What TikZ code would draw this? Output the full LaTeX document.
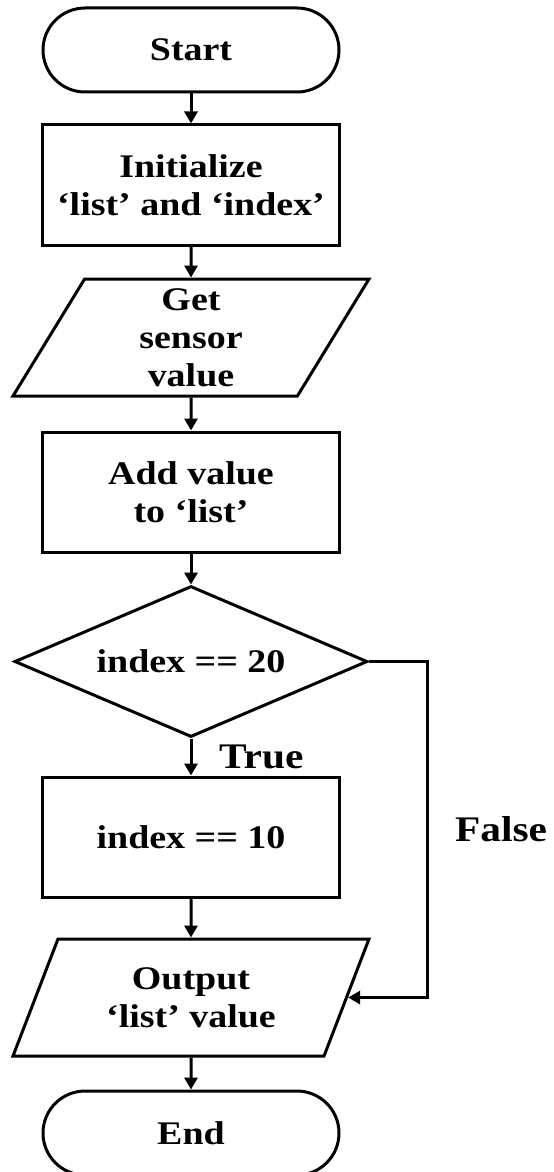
\documentclass[tikz,border=0pt]{standalone}
\usepackage{fontspec}
\setmainfont{Liberation Serif}[FakeStretch=1.15]
\usetikzlibrary{arrows.meta}
\usetikzlibrary{shapes.geometric,positioning}

\begin{document}
\begin{tikzpicture}[->,>={Triangle[length=6pt,width=6.5pt]},line width=1.5pt,
                    node distance=15.5pt,
                    every node/.style={font=\fontsize{16.5}{19}\selectfont\bfseries,align=center},
                    term node/.style={rectangle,rounded corners=21pt,draw,minimum width=148pt,minimum height=42pt},
                    box node/.style={rectangle,draw,minimum width=148.5pt,minimum height=60pt},
                    io node/.style={trapezium,trapezium left angle=55,trapezium right angle=125,
                                    trapezium stretches body,draw,minimum width=178pt,minimum height=58.5pt,inner sep=1pt},
                    dec node/.style={diamond,draw,aspect=2.3,inner sep=0pt,minimum width=176.5pt,minimum height=75.5pt},
                    label node/.style={font=\fontsize{18}{20}\selectfont\bfseries}]

  \useasboundingbox (0,0) rectangle (276.5pt,-586pt);

  \node[term node] (start) at (95.5pt,-25pt) {Start};
  \node[box node] (init) [below=15pt of start] {Initialize\\`list' and `index'};
  \node[io node] (get) [below=of init] {Get\\sensor\\value};
  \node[box node] (add) [below=16.5pt of get] {Add value\\to `list'};
  \node[dec node] (dec) [below=of add] {index == 20};
  \node[box node] (idx) [below=18.5pt of dec] {index == 10};
  \node[io node] (out) [below=19.5pt of idx] {Output\\`list' value};
  \node[term node] (end) [below=16pt of out] {End};

  \coordinate[right=29.25pt of dec.east] (fturn);

  \path
    (start) edge (init)
    (init) edge (get)
    (get) edge (add)
    (add) edge (dec)
    (dec) edge node[label node,right=10pt] (lbltrue) {True} (idx)
    (idx) edge (out)
    (out) edge (end);

  \draw (dec.east) -- (fturn) |- node[label node,pos=0.25,right=9.7pt] (lblfalse) {False} (out.east);

\end{tikzpicture}
\end{document}
